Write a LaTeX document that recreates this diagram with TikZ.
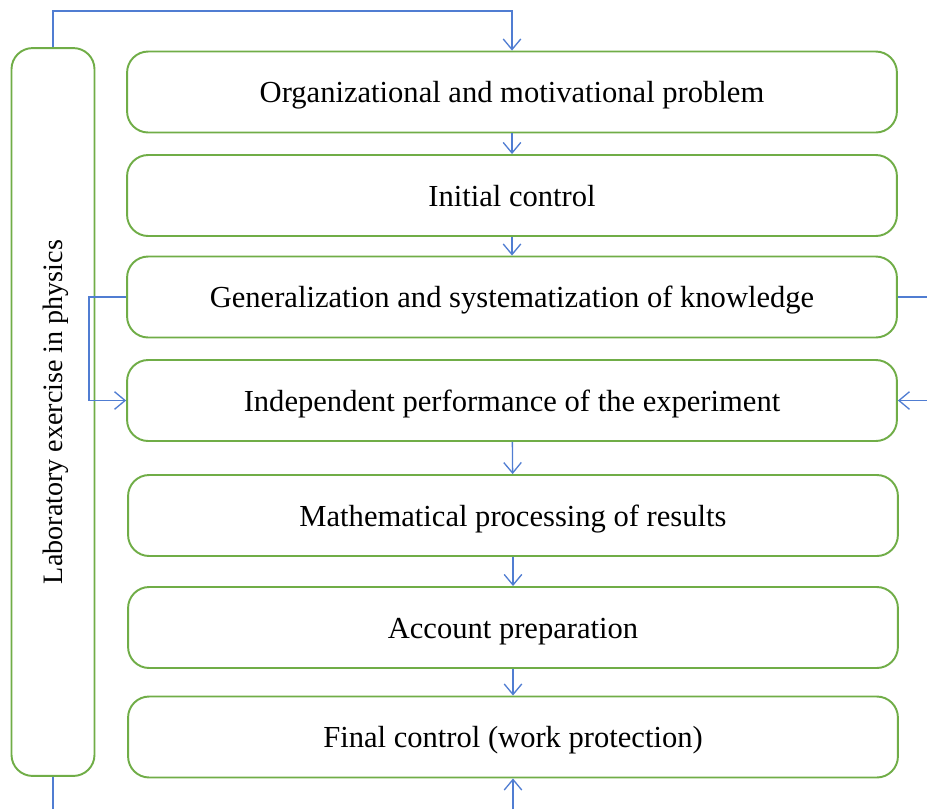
\documentclass[tikz,border=0pt]{standalone}
\usepackage{fontspec}
\setmainfont{Liberation Serif}
\usetikzlibrary{arrows.meta}
\definecolor{boxgreen}{RGB}{112,173,71}
\definecolor{linkblue}{RGB}{80,125,210}
\tikzset{
	stage/.style={draw=boxgreen, line width=1.1pt, rounded corners=12pt, fill=white,
		minimum width=15.4cm, minimum height=1.62cm, text height=12pt, text depth=0pt,
		font=\fontsize{17.4}{20}\selectfont},
	link/.style={color=linkblue, line width=0.75pt},
	flow/.style={link, -{Straight Barb[length=6pt,width=10pt]}}
}
\begin{document}
\begin{tikzpicture}[x=0.02cm, y=-0.02cm]
	\useasboundingbox (0,0) rectangle (927,809);
	\node (lab) at ( 53, 412)	[draw=boxgreen, line width=1.1pt, rounded corners=12pt, minimum width=1.66cm, minimum height=14.56cm]	{};
	\node at (lab.center) [rotate=90, yshift=-0.06cm, font=\fontsize{16}{19}\selectfont]	{Laboratory exercise in physics};
	\node (b1) at (512, 92)	[stage]	{Organizational and motivational problem};
	\node (b2) at (512, 195.5)	[stage]	{Initial control};
	\node (b3) at (512, 297)	[stage]	{Generalization and systematization of knowledge};
	\node (b4) at (512, 400.5)	[stage]	{Independent performance of the experiment};
	\node (b5) at (513, 515.5)	[stage]	{Mathematical processing of results};
	\node (b6) at (513, 627.5)	[stage]	{Account preparation};
	\node (b7) at (513, 737)	[stage]	{Final control (work protection)};
	\coordinate (r3) at (927, 297);
	\coordinate (r4) at (927, 400.5);
	\coordinate (bl) at ( 53, 809);
	\coordinate (bm) at (513, 809);
	\draw[flow] (lab.north) -- ++(0,-36) -| (b1.north);
	\draw[flow] (b1) -- (b2);
	\draw[flow] (b2) -- (b3);
	\draw[flow] (b3.west) -- ++(-37,0) |- (b4.west);
	\draw[link] (b3.east) -- (r3);
	\draw[flow] (r4) -- (b4.east);
	\draw[flow] (b4) -- (b5);
	\draw[flow] (b5) -- (b6);
	\draw[flow] (b6) -- (b7);
	\draw[link] (lab.south) -- (bl);
	\draw[flow] (bm) -- (b7.south);
\end{tikzpicture}
\end{document}
